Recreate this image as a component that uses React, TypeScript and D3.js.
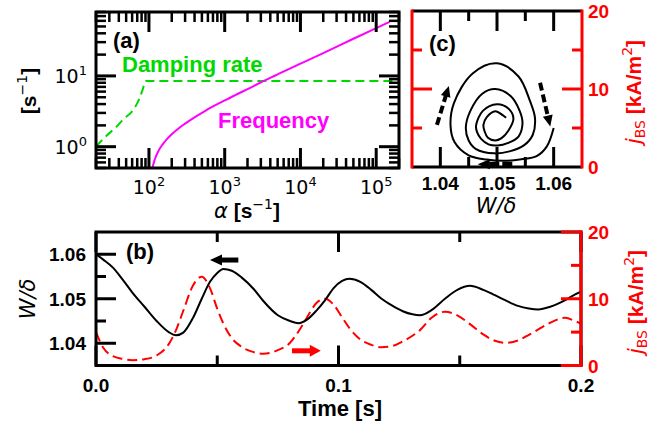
import React from 'react';
import * as d3 from 'd3';

// ---- panel (a): damping rate & frequency vs alpha ----
const dampAlpha = [20, 27, 37, 47, 62, 75, 83, 90, 200000];
const dampRate = [1.0, 1.4, 1.9, 2.5, 3.3, 4.8, 6.5, 8.5, 8.5];
const freqAlpha = [101, 103, 105, 110, 120, 135, 150, 175, 200, 250, 300, 400, 500, 700, 1000, 1500, 2000, 3000, 5000, 7000, 10000, 20000, 50000, 100000, 150000];
const freqVals = [0.15, 0.26, 0.34, 0.47, 0.67, 0.89, 1.06, 1.3, 1.5, 1.84, 2.12, 2.6, 3.0, 3.7, 4.5, 5.6, 6.5, 8.1, 10.5, 12.5, 14.9, 21, 33.5, 47.4, 58];
const alphaExp = [2, 3, 4, 5];
const rateExp = [0, 1];

// ---- panel (b)/(c): time traces ----
const time = [0, 0.003, 0.007, 0.011, 0.015, 0.02, 0.025, 0.03, 0.033, 0.036, 0.04, 0.0436, 0.047, 0.05, 0.0525, 0.056, 0.06, 0.065, 0.069, 0.075, 0.08, 0.0835, 0.087, 0.091, 0.0945, 0.098, 0.1015, 0.1045, 0.109, 0.1135, 0.1175, 0.122, 0.1265, 0.1305, 0.1336, 0.1385, 0.1439, 0.149, 0.1542, 0.1597, 0.1645, 0.1687, 0.174, 0.1785, 0.1824, 0.1873, 0.1935, 0.1976, 0.2];
const widthRatio = [
  1.0600, 1.0588, 1.0570, 1.0543, 1.0514,
  1.0482, 1.0450, 1.0425, 1.0418, 1.0424,
  1.0457, 1.0500, 1.0538, 1.0558, 1.0567,
  1.0563, 1.0548, 1.0522, 1.0495, 1.0463,
  1.0450, 1.0445, 1.0453, 1.0474, 1.0497,
  1.0524, 1.0540, 1.0545, 1.0538, 1.0520,
  1.0501, 1.0485, 1.0472, 1.0465, 1.0463,
  1.0475, 1.0500, 1.0520, 1.0529, 1.0520,
  1.0508, 1.0497, 1.0484, 1.0478, 1.0476,
  1.0482, 1.0497, 1.0510, 1.0516,
];
const jBS = [
  5.0, 2.65, 1.4, 1.0, 0.8,
  0.95, 1.5, 3.2, 5.3, 8.2,
  12.0, 13.3, 11.6, 8.5, 6.3,
  4.1, 2.8, 2.0, 1.75, 2.3,
  3.4, 5.1, 7.2, 9.4, 10.0,
  9.1, 7.2, 5.6, 3.9, 3.1,
  2.75, 2.9, 3.6, 4.45, 5.3,
  7.2, 8.05, 7.5, 6.2, 4.65,
  3.7, 3.4, 3.75, 4.6, 5.4,
  6.4, 7.15, 6.65, 6.3,
];
const timeTicks = [0, 0.1, 0.2];
const timeMinor = [0.05, 0.15];
const wTicks = [1.04, 1.05, 1.06];
const wMinor = [1.045, 1.055];
const jTicks = [0, 10, 20];
const jMinor = [5, 15];

const RED = '#ff0000';
const GREEN = '#00d800';
const MAGENTA = '#ff00ff';
const SANS = "'Liberation Sans', Arial, sans-serif";
const MATH = "'DejaVu Sans', sans-serif";
const MAJ = 20;
const MIN = 10;

const Arrow = ({ x1, y1, x2, y2, color, shaft, headLen, headW, dash }: any) => {
  const dx = x2 - x1, dy = y2 - y1;
  const L = Math.hypot(dx, dy);
  const ux = dx / L, uy = dy / L;
  const bx = x2 - ux * headLen, by = y2 - uy * headLen;
  const px = -uy, py = ux;
  return (
    <g>
      <line x1={x1} y1={y1} x2={bx + ux} y2={by + uy} stroke={color} strokeWidth={shaft} strokeDasharray={dash} />
      <polygon
        points={`${x2},${y2} ${bx + (px * headW) / 2},${by + (py * headW) / 2} ${bx - (px * headW) / 2},${by - (py * headW) / 2}`}
        fill={color}
      />
    </g>
  );
};

const App = () => {
  // panel boxes
  const A = { l: 96, r: 399, t: 12, b: 168 };
  const B = { l: 96, r: 581, t: 232, b: 365.5 };
  const C = { l: 412, r: 582, t: 11, b: 167 };

  const xA = d3.scaleLog().domain([20, 2e5]).range([A.l, A.r]);
  const yA = d3.scaleLog().domain([0.5, 80]).range([A.b, A.t]);
  const xB = d3.scaleLinear().domain([0, 0.2]).range([B.l, B.r]);
  const yB = d3.scaleLinear().domain([1.035, 1.065]).range([B.b, B.t]);
  const yBr = d3.scaleLinear().domain([0, 20]).range([B.b, B.t]);
  const xC = d3.scaleLinear().domain([1.035, 1.065]).range([C.l, C.r]);
  const yC = d3.scaleLinear().domain([0, 20]).range([C.b, C.t]);

  // minor log ticks
  const alphaMinor: number[] = [];
  for (let e = 1; e <= 5; e++) for (let k = 2; k <= 9; k++) {
    const v = k * Math.pow(10, e);
    if (v >= 20 && v <= 2e5) alphaMinor.push(v);
  }
  const rateMinor: number[] = [];
  for (let e = -1; e <= 1; e++) for (let k = 2; k <= 9; k++) {
    const v = k * Math.pow(10, e);
    if (v >= 0.5 && v <= 80) rateMinor.push(v);
  }

  const dampLine = d3.line<number>().x((d, i) => xA(dampAlpha[i])).y(d => yA(d)).curve(d3.curveMonotoneX);
  const freqLine = d3.line<number>().x((d, i) => xA(freqAlpha[i])).y(d => yA(d)).curve(d3.curveMonotoneX);
  const wLine = d3.line<number>().x((d, i) => xB(time[i])).y(d => yB(d)).curve(d3.curveMonotoneX);
  const jLine = d3.line<number>().x((d, i) => xB(time[i])).y(d => yBr(d)).curve(d3.curveMonotoneX);
  const phaseLine = d3.line<number>().x(d => xC(d)).y((d, i) => yC(jBS[i])).curve(d3.curveCatmullRom.alpha(0.5));

  const tickV = (vals: number[], scale: any, x0: number, dir: number, len: number, color: string, sw: number, key: string) =>
    vals.map(v => (
      <line key={key + v} x1={x0} x2={x0 + dir * len} y1={scale(v)} y2={scale(v)} stroke={color} strokeWidth={sw} />
    ));
  const tickH = (vals: number[], scale: any, y0: number, dir: number, len: number, color: string, sw: number, key: string) =>
    vals.map(v => (
      <line key={key + v} y1={y0} y2={y0 + dir * len} x1={scale(v)} x2={scale(v)} stroke={color} strokeWidth={sw} />
    ));

  return (
    <svg width={667} height={430} style={{ position: 'absolute', left: 0, top: 0, background: '#fff' }}>
      <defs>
        <clipPath id="clipA"><rect x={A.l} y={A.t} width={A.r - A.l} height={A.b - A.t} /></clipPath>
        <clipPath id="clipB"><rect x={B.l} y={B.t} width={B.r - B.l} height={B.b - B.t} /></clipPath>
        <clipPath id="clipC"><rect x={C.l} y={C.t} width={C.r - C.l} height={C.b - C.t} /></clipPath>
      </defs>

      {/* ===== panel (a) ===== */}
      <g clipPath="url(#clipA)">
        <path d={dampLine(dampRate) || ''} fill="none" stroke={GREEN} strokeWidth={2} strokeDasharray="9,5" />
        <path d={freqLine(freqVals) || ''} fill="none" stroke={MAGENTA} strokeWidth={2} />
      </g>
      {tickH(alphaExp.map(e => Math.pow(10, e)), xA, A.b, -1, MAJ, '#000', 3, 'axb')}
      {tickH(alphaExp.map(e => Math.pow(10, e)), xA, A.t, 1, MAJ, '#000', 3, 'axt')}
      {tickH(alphaMinor, xA, A.b, -1, MIN, '#000', 2.5, 'amb')}
      {tickH(alphaMinor, xA, A.t, 1, MIN, '#000', 2.5, 'amt')}
      {tickV(rateExp.map(e => Math.pow(10, e)), yA, A.l, 1, MAJ, '#000', 3, 'ayl')}
      {tickV(rateExp.map(e => Math.pow(10, e)), yA, A.r, -1, MAJ, '#000', 3, 'ayr')}
      {tickV(rateMinor, yA, A.l, 1, MIN, '#000', 2.5, 'aml')}
      {tickV(rateMinor, yA, A.r, -1, MIN, '#000', 2.5, 'amr')}
      <rect x={A.l} y={A.t} width={A.r - A.l} height={A.b - A.t} fill="none" stroke="#000" strokeWidth={3} />
      {alphaExp.map(e => (
        <text key={'axl' + e} x={xA(Math.pow(10, e))} y={194} textAnchor="middle" fontFamily={MATH} fontSize={19}>
          10<tspan fontSize={13} dy={-8}>{e}</tspan>
        </text>
      ))}
      {rateExp.map(e => (
        <text key={'ayl' + e} x={87} y={yA(Math.pow(10, e)) + 7} textAnchor="end" fontFamily={MATH} fontSize={19}>
          10<tspan fontSize={13} dy={-8}>{e}</tspan>
        </text>
      ))}
      <text x={247} y={218} textAnchor="middle" fontFamily={SANS} fontSize={21} fontWeight="bold">
        <tspan fontFamily={MATH} fontStyle="italic" fontWeight="normal">α</tspan>
        <tspan>{' [s'}</tspan>
        <tspan fontFamily={MATH} fontWeight="normal" fontSize={14} dy={-9}>−1</tspan>
        <tspan dy={9}>]</tspan>
      </text>
      <text transform="translate(36,91) rotate(-90)" textAnchor="middle" fontFamily={SANS} fontSize={21} fontWeight="bold">
        <tspan>[s</tspan>
        <tspan fontFamily={MATH} fontWeight="normal" fontSize={14} dy={-9}>−1</tspan>
        <tspan dy={9}>]</tspan>
      </text>
      <text x={113} y={48} fontFamily={SANS} fontSize={22} fontWeight="bold">(a)</text>
      <text x={122} y={72} fontFamily={SANS} fontSize={22} fontWeight="bold" fill={GREEN}>Damping rate</text>
      <text x={218} y={128} fontFamily={SANS} fontSize={22} fontWeight="bold" fill={MAGENTA}>Frequency</text>

      {/* ===== panel (c) ===== */}
      <g clipPath="url(#clipC)">
        <path d={phaseLine(widthRatio) || ''} fill="none" stroke="#000" strokeWidth={2} />
      </g>
      {tickH(wTicks, xC, C.b, -1, MAJ, '#000', 3, 'cxb')}
      {tickH(wTicks, xC, C.t, 1, MAJ, '#000', 3, 'cxt')}
      {tickH(wMinor, xC, C.b, -1, MIN, '#000', 3, 'cmb')}
      {tickH(wMinor, xC, C.t, 1, MIN, '#000', 3, 'cmt')}
      {tickV([10], yC, C.l, 1, MAJ, RED, 3, 'cyl')}
      {tickV([10], yC, C.r, -1, MAJ, RED, 3, 'cyr')}
      {tickV(jMinor, yC, C.l, 1, MIN, RED, 3, 'cml')}
      {tickV(jMinor, yC, C.r, -1, MIN, RED, 3, 'cmr')}
      <line x1={C.l} x2={C.r} y1={C.t} y2={C.t} stroke="#000" strokeWidth={3} />
      <line x1={C.l} x2={C.r} y1={C.b} y2={C.b} stroke="#000" strokeWidth={3} />
      <line x1={C.l} x2={C.l} y1={C.t - 1.5} y2={C.b + 1.5} stroke={RED} strokeWidth={3} />
      <line x1={C.r} x2={C.r} y1={C.t - 1.5} y2={C.b + 1.5} stroke={RED} strokeWidth={3} />
      <Arrow x1={xC(1.0394)} y1={yC(5.4)} x2={xC(1.0415)} y2={yC(10.4)} color="#000" shaft={4} headLen={11} headW={10} dash="8,4" />
      <Arrow x1={xC(1.0576)} y1={yC(10.8)} x2={xC(1.0594)} y2={yC(5.2)} color="#000" shaft={4} headLen={11} headW={10} dash="8,4" />
      <Arrow x1={xC(1.0527)} y1={yC(0.35)} x2={xC(1.0466)} y2={yC(0.35)} color="#000" shaft={5} headLen={12} headW={10} dash="10,3" />
      {wTicks.map(v => (
        <text key={'cxl' + v} x={xC(v)} y={190} textAnchor="middle" fontFamily={SANS} fontSize={19} fontWeight="bold">{v.toFixed(2)}</text>
      ))}
      {jTicks.map(v => (
        <text key={'cyl' + v} x={588} y={yC(v) + 7} fontFamily={SANS} fontSize={19} fontWeight="bold" fill={RED}>{v}</text>
      ))}
      <text x={496} y={213} textAnchor="middle" fontFamily={MATH} fontStyle="italic" fontSize={21}>W/δ</text>
      <text x={429} y={51} fontFamily={SANS} fontSize={22} fontWeight="bold">(c)</text>
      <text transform="translate(641,92) rotate(-90)" textAnchor="middle" fontFamily={SANS} fontSize={21} fontWeight="bold" fill={RED}>
        <tspan fontFamily={MATH} fontStyle="italic" fontWeight="normal">j</tspan>
        <tspan fontFamily={MATH} fontWeight="normal" fontSize={14} dy={4}>BS</tspan>
        <tspan dy={-4}>{' [kA/m'}</tspan>
        <tspan fontFamily={MATH} fontWeight="normal" fontSize={14} dy={-9}>2</tspan>
        <tspan dy={9}>]</tspan>
      </text>

      {/* ===== panel (b) ===== */}
      <g clipPath="url(#clipB)">
        <path d={jLine(jBS) || ''} fill="none" stroke={RED} strokeWidth={2} strokeDasharray="10,5" />
        <path d={wLine(widthRatio) || ''} fill="none" stroke="#000" strokeWidth={2} />
      </g>
      {tickH(timeTicks, xB, B.b, -1, MAJ, '#000', 3, 'bxb')}
      {tickH(timeTicks, xB, B.t, 1, MAJ, '#000', 3, 'bxt')}
      {tickH(timeMinor, xB, B.b, -1, MIN, '#000', 3, 'bmb')}
      {tickH(timeMinor, xB, B.t, 1, MIN, '#000', 3, 'bmt')}
      {tickV(wTicks, yB, B.l, 1, MAJ, '#000', 3, 'byl')}
      {tickV(wMinor, yB, B.l, 1, MIN, '#000', 3, 'bml')}
      <rect x={B.l} y={B.t} width={B.r - B.l} height={B.b - B.t} fill="none" stroke="#000" strokeWidth={3} />
      {tickV(jTicks, yBr, B.r, -1, MAJ, RED, 3, 'byr')}
      {tickV(jMinor, yBr, B.r, -1, MIN, RED, 3, 'bmr')}
      <line x1={B.r} x2={B.r} y1={B.t - 1.5} y2={B.b + 1.5} stroke={RED} strokeWidth={3} />
      <Arrow x1={xB(0.0587)} y1={yB(1.0587)} x2={xB(0.0470)} y2={yB(1.0587)} color="#000" shaft={5} headLen={12} headW={11} />
      <Arrow x1={xB(0.0808)} y1={yBr(2.2)} x2={xB(0.0927)} y2={yBr(2.2)} color={RED} shaft={5} headLen={11} headW={12} />
      {timeTicks.map(v => (
        <text key={'bxl' + v} x={xB(v)} y={392} textAnchor="middle" fontFamily={SANS} fontSize={19} fontWeight="bold">{v.toFixed(1)}</text>
      ))}
      {wTicks.map(v => (
        <text key={'byl' + v} x={86} y={yB(v) + 7} textAnchor="end" fontFamily={SANS} fontSize={19} fontWeight="bold">{v.toFixed(2)}</text>
      ))}
      {jTicks.map(v => (
        <text key={'byr' + v} x={588} y={yBr(v) + 7} fontFamily={SANS} fontSize={19} fontWeight="bold" fill={RED}>{v}</text>
      ))}
      <text x={340} y={416} textAnchor="middle" fontFamily={SANS} fontSize={22} fontWeight="bold">Time [s]</text>
      <text transform="translate(35,299) rotate(-90)" textAnchor="middle" fontFamily={MATH} fontStyle="italic" fontSize={21}>W/δ</text>
      <text x={126} y={259} fontFamily={SANS} fontSize={22} fontWeight="bold">(b)</text>
      <text transform="translate(643,302) rotate(-90)" textAnchor="middle" fontFamily={SANS} fontSize={21} fontWeight="bold" fill={RED}>
        <tspan fontFamily={MATH} fontStyle="italic" fontWeight="normal">j</tspan>
        <tspan fontFamily={MATH} fontWeight="normal" fontSize={14} dy={4}>BS</tspan>
        <tspan dy={-4}>{' [kA/m'}</tspan>
        <tspan fontFamily={MATH} fontWeight="normal" fontSize={14} dy={-9}>2</tspan>
        <tspan dy={9}>]</tspan>
      </text>
    </svg>
  );
};

export default App;
